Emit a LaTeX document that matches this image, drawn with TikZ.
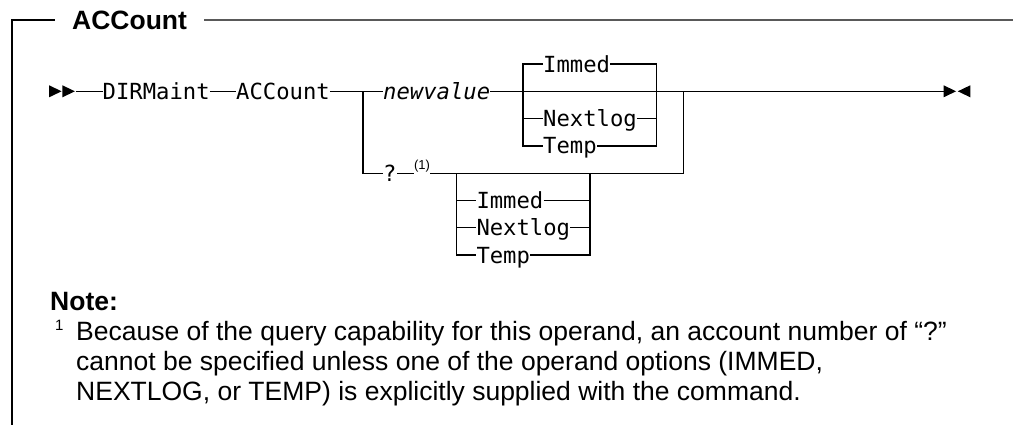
\documentclass[tikz,border=0pt]{standalone}
\usepackage{fontspec}
\setmainfont{Liberation Sans}
\newfontfamily\synfont{DejaVu Sans Mono}
\begin{document}
\begin{tikzpicture}[
  x=1pt, y=-1pt,
  kw/.style={font=\synfont\fontsize{22.2}{24}\selectfont, inner sep=0pt,
    text height=16.2pt, text depth=0pt, anchor=west},
  rail/.style={line width=1.3pt},
  notetxt/.style={font=\fontsize{26.5}{30}\selectfont, inner sep=0pt, anchor=base west},
]
  \useasboundingbox (0,0) rectangle (1013,425);

  % frame and title
  \coordinate (tl) at (12,20);
  \coordinate (bot) at (12,425);
  \coordinate (tr) at (1013,20);
  \node[font=\bfseries\fontsize{26.5}{30}\selectfont, inner xsep=17pt, inner ysep=0pt,
    anchor=west] (ttl) at (55,20) {ACCount};
  \draw[line width=1.5pt] (bot) -- (tl) -- (ttl.west);
  \draw[line width=1.8pt, black!65] (ttl.east) -- (tr);

  % main line
  \coordinate (st) at (75.5,91.3);
  \coordinate (bl) at (363,91.3);
  \coordinate (br) at (683.2,91.3);
  \coordinate (en) at (943.6,91.3);
  \node[kw] (dir) at (102.5,91.3) {DIRMaint};
  \node[kw] (acc) at (236,91.3) {ACCount};
  \node[kw] (nv) at (383,91.3) {\itshape newvalue};

  \fill (49.1,85.3) -- (61.6,91.3) -- (49.1,97.3) -- cycle;
  \fill (62.4,85.3) -- (74.9,91.3) -- (62.4,97.3) -- cycle;
  \fill (943.6,85.3) -- (956.1,91.3) -- (943.6,97.3) -- cycle;
  \fill (970.3,85.3) -- (957.8,91.3) -- (970.3,97.3) -- cycle;

  \draw[rail] (st) -- (dir.west);
  \draw[rail] (dir.east) -- (acc.west);
  \draw[rail] (acc.east) -- (bl) -- (nv.west);
  \draw[rail] (nv.east) -- (en);

  % options after newvalue
  \coordinate (ulA) at (523,64);
  \coordinate (urA) at (656.5,64);
  \node[kw] (imA) at (543,64) {Immed};
  \node[kw] (nlA) at (543,118.6) {Nextlog};
  \node[kw] (tpA) at (543,145.9) {Temp};
  \draw[rail] (imA.west) -- (ulA) -- (ulA |- tpA.west) -- (tpA.west);
  \draw[rail] (imA.east) -- (urA) -- (urA |- tpA.east) -- (tpA.east);
  \draw[rail] (ulA |- nlA.west) -- (nlA.west);
  \draw[rail] (nlA.east) -- (urA |- nlA.east);

  % query branch
  \node[kw] (qm) at (383,173.2) {?};
  \node[font=\fontsize{13}{14}\selectfont, inner sep=0pt, anchor=south] (fn) at (422,172.6) {(1)};
  \draw[rail] (bl) -- (bl |- qm.west) -- (qm.west);
  \draw[rail] (qm.east) -- (fn.west |- qm.east);
  \draw[rail] (fn.east |- qm.east) -- (br |- qm.east) -- (br);

  % options after ?
  \coordinate (ulB) at (456.4,173.2);
  \coordinate (urB) at (589.9,173.2);
  \node[kw] (imB) at (476.3,200.5) {Immed};
  \node[kw] (nlB) at (476.3,227.8) {Nextlog};
  \node[kw] (tpB) at (476.3,255.1) {Temp};
  \draw[rail] (ulB) -- (ulB |- tpB.west) -- (tpB.west);
  \draw[rail] (urB) -- (urB |- tpB.east) -- (tpB.east);
  \draw[rail] (ulB |- imB.west) -- (imB.west);
  \draw[rail] (imB.east) -- (urB |- imB.east);
  \draw[rail] (ulB |- nlB.west) -- (nlB.west);
  \draw[rail] (nlB.east) -- (urB |- nlB.east);

  % note
  \node[notetxt, font=\bfseries\fontsize{26.5}{30}\selectfont] (nhd) at (50,310) {Note:};
  \node[notetxt, font=\fontsize{15}{16}\selectfont] (nnum) at (55,330) {1};
  \node[notetxt] (nA) at (76,340) {Because of the query capability for this operand, an account number of “?”};
  \node[notetxt] (nB) at (76,370) {cannot be specified unless one of the operand options (IMMED,};
  \node[notetxt] (nC) at (76,400) {NEXTLOG, or TEMP) is explicitly supplied with the command.};
\end{tikzpicture}
\end{document}
